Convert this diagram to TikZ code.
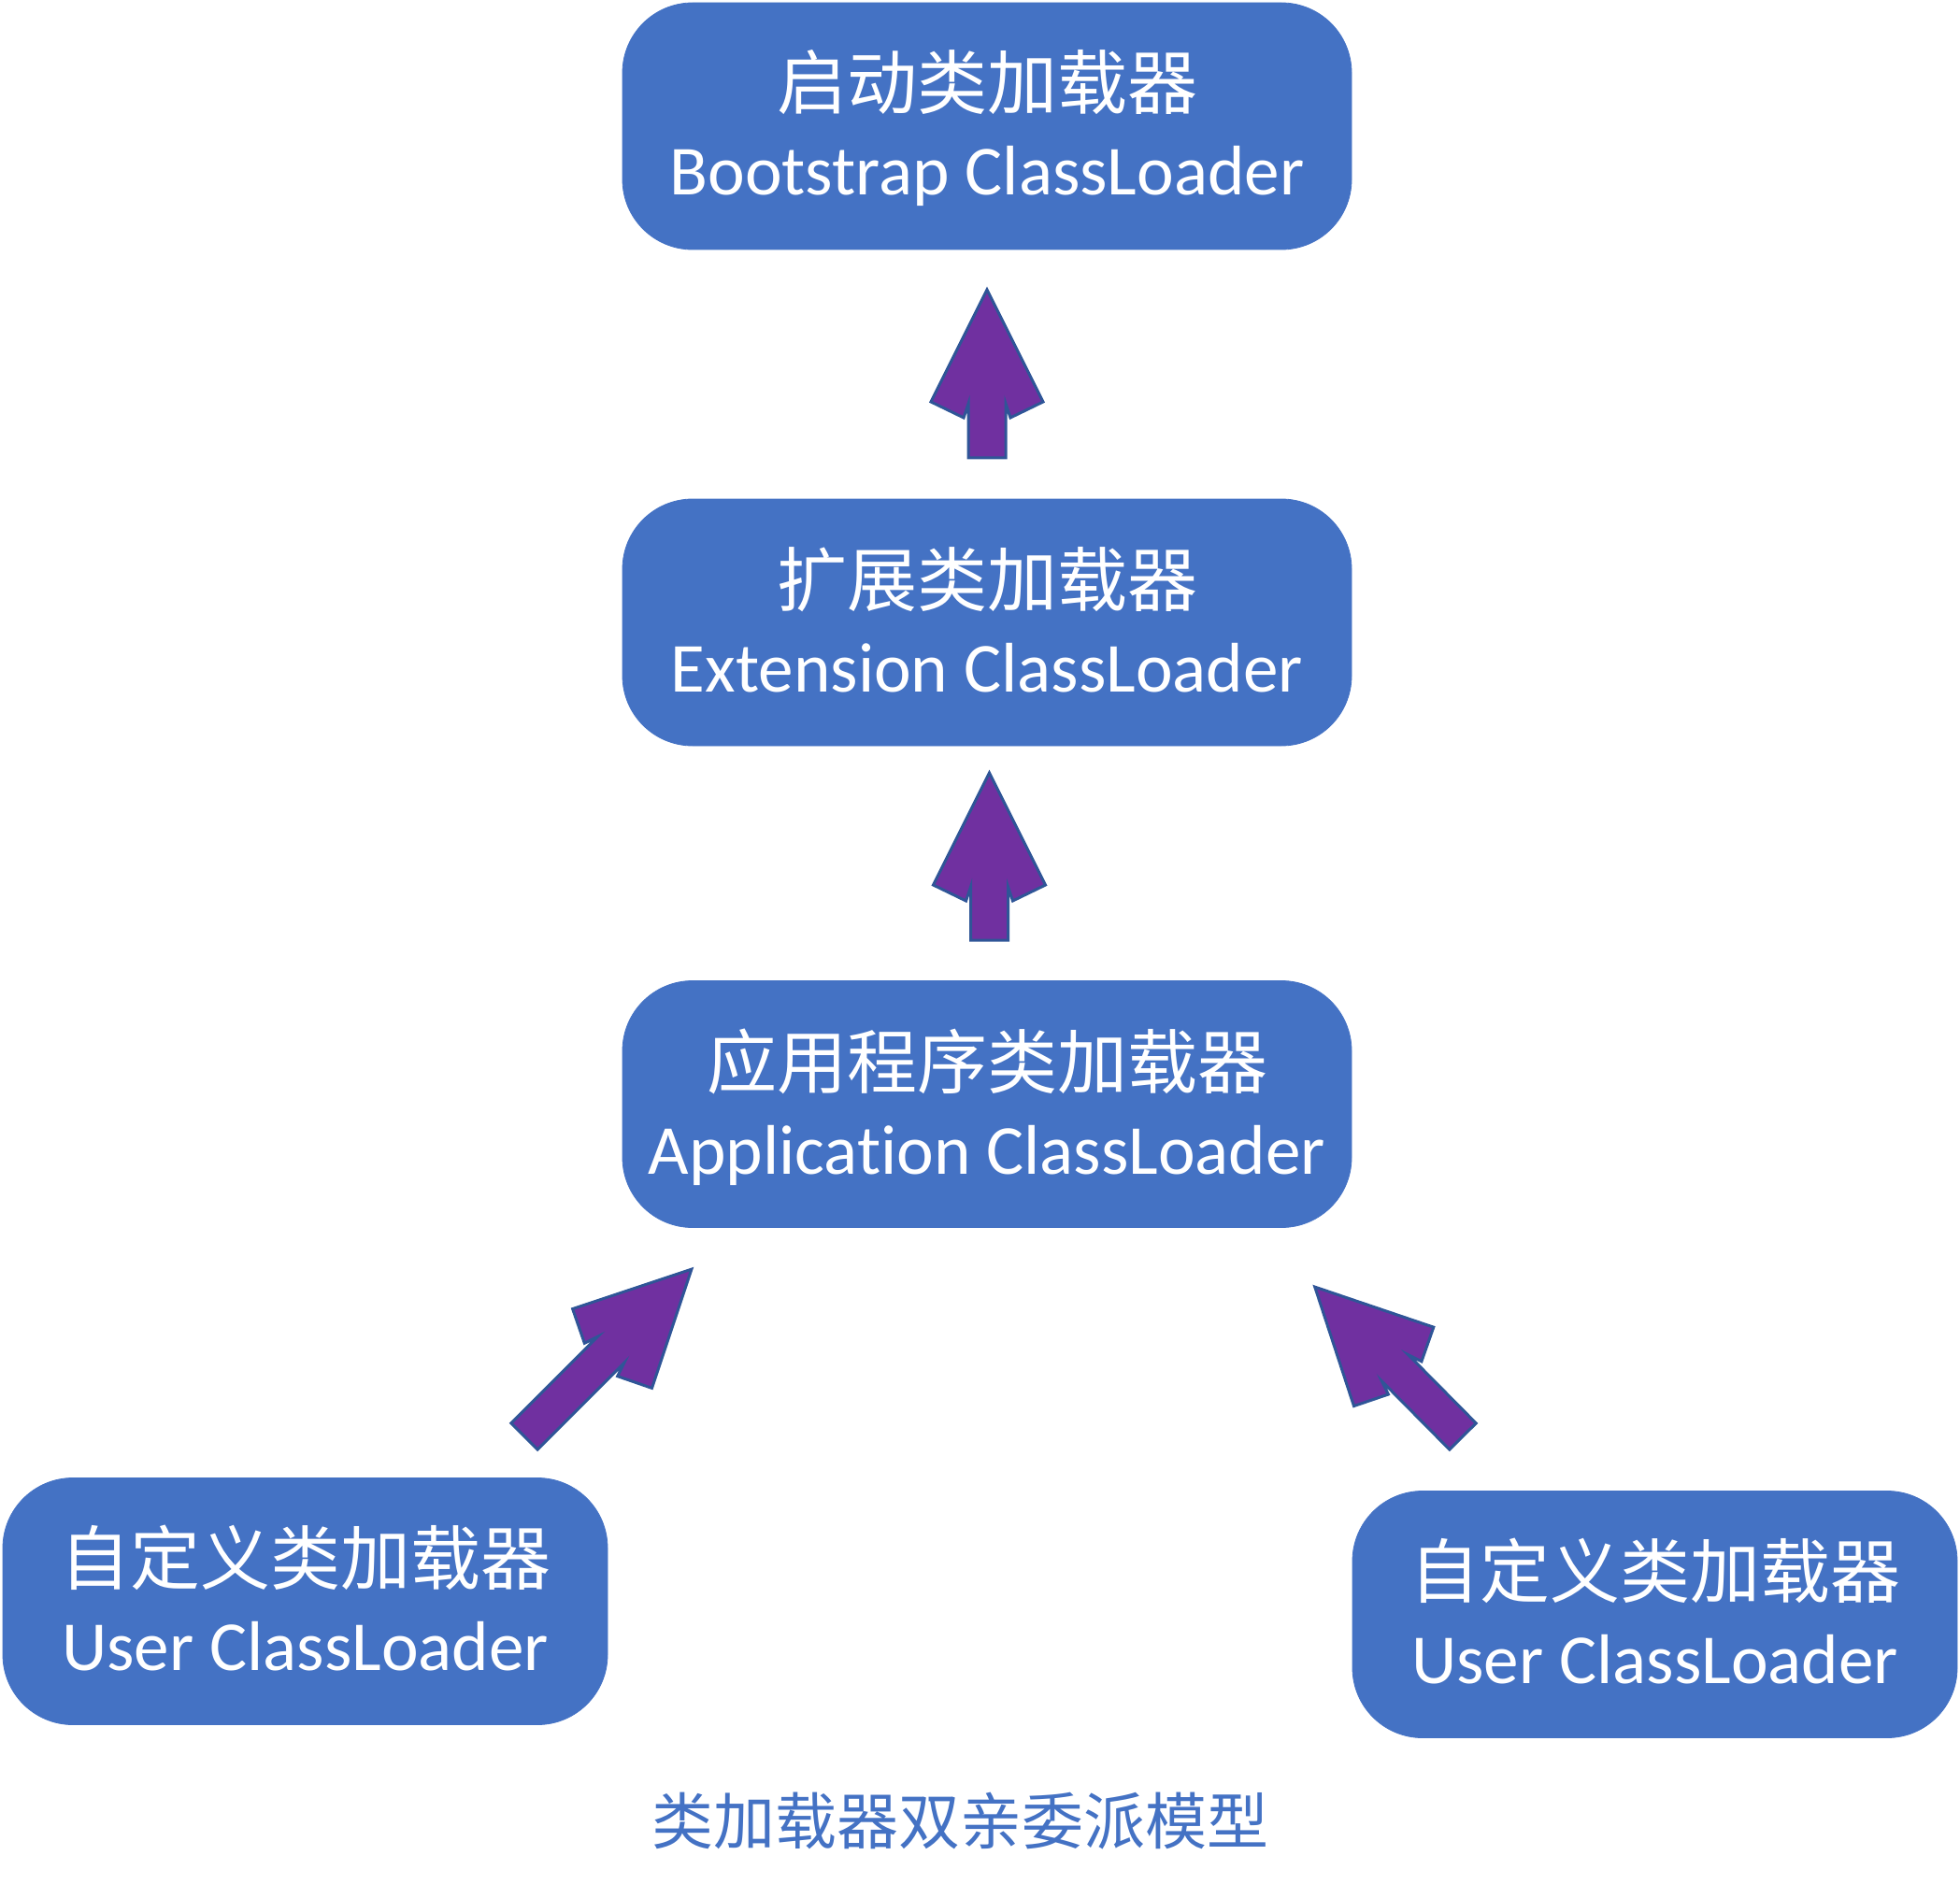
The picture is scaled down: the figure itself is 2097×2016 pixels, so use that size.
\documentclass[tikz,border=0pt]{standalone}
\usepackage{fontspec}
\setmainfont{Carlito}[Ligatures={NoCommon,NoRare,NoContextual}]
\newfontfamily\cjk{Noto Sans CJK SC}
\definecolor{boxblue}{HTML}{4472C4}
\definecolor{arrowfill}{HTML}{7030A0}
\definecolor{arrowline}{HTML}{2F5597}
\tikzset{
  loader/.style={draw=boxblue, fill=boxblue, rounded corners=37.5pt,
    minimum width=390pt, minimum height=132pt, inner sep=0pt},
  userloader/.style={loader, minimum width=323.5pt},
  cjktext/.style={text=white, anchor=base, inner sep=0pt,
    font=\cjk\fontsize{37.5}{40}\selectfont},
  entext/.style={text=white, anchor=base, inner sep=0pt,
    font=\fontsize{37.6}{40}\selectfont},
  captiontext/.style={text=boxblue, anchor=base, inner sep=0pt,
    font=\cjk\fontsize{33}{36}\selectfont},
  fatarrow/.style={fill=arrowfill, draw=arrowline, line width=1.5pt, line join=miter},
}
% #1 base coordinate, #2 direction angle, #3 length (px)
\newcommand\blockarrow[3]{%
  \begin{scope}[shift={(#1)}, rotate=#2]
    \draw[fatarrow] (0,-20) -- ({#3-122},-20) -- ({#3-137},-25) -- ({#3-120},-60)
      -- (#3,0) -- ({#3-120},60) -- ({#3-137},25) -- ({#3-122},20) -- (0,20) -- cycle;
  \end{scope}}
\begin{document}
\begin{tikzpicture}[x=0.5pt, y=-0.5pt]
  \useasboundingbox (0,0) rectangle (2097,2016);

  % boxes
  \node[loader] (boot) at (1056,135) {};
  \node[loader] (ext) at (1056,666) {};
  \node[loader] (app) at (1056,1181.5) {};
  \node[userloader] (userL) at (326.5,1713.5) {};
  \node[userloader] (userR) at (1770.5,1727.5) {};

  % texts
  \node[cjktext] (bootZh) at (1056,117) {启动类加载器};
  \node[entext]  (bootEn) at (1056,209) {Bootstrap ClassLoader};
  \node[cjktext] (extZh) at (1056,648) {扩展类加载器};
  \node[entext]  (extEn) at (1056,740) {Extension ClassLoader};
  \node[cjktext] (appZh) at (1056,1164) {应用程序类加载器};
  \node[entext]  (appEn) at (1056,1256) {Application ClassLoader};
  \node[cjktext] (userLZh) at (326.5,1695) {自定义类加载器};
  \node[entext]  (userLEn) at (326.5,1787) {User ClassLoader};
  \node[cjktext] (userRZh) at (1770.5,1709) {自定义类加载器};
  \node[entext]  (userREn) at (1770.5,1801) {User ClassLoader};

  \node[captiontext] (caption) at (1027.5,1973) {类加载器双亲委派模型};

  % block arrows
  \coordinate (a1) at (1056,490);
  \coordinate (a2) at (1058.5,1006);
  \coordinate (a3) at (561,1537);
  \coordinate (a4) at (1565,1537);
  \blockarrow{a1}{90}{180}
  \blockarrow{a2}{90}{179}
  \blockarrow{a3}{45}{253}
  \blockarrow{a4}{134.7}{225}
\end{tikzpicture}
\end{document}
